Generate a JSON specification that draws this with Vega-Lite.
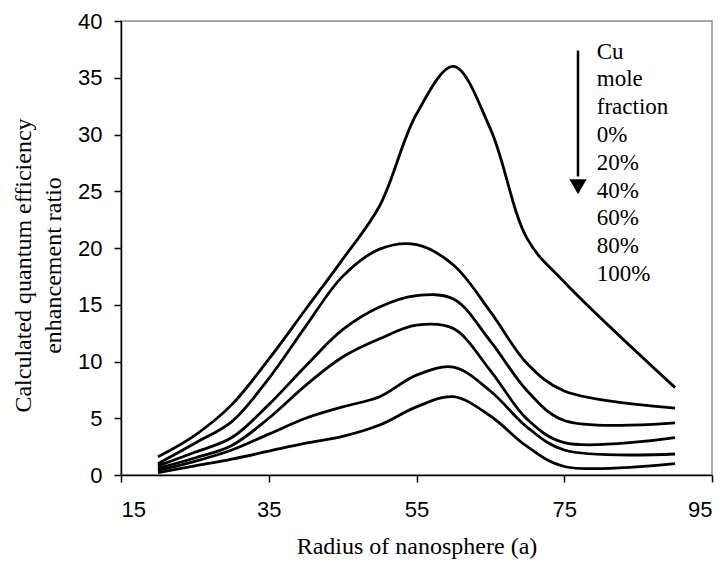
{
  "$schema": "https://vega.github.io/schema/vega-lite/v6.json",
  "width": 591,
  "height": 454,
  "autosize": {"type": "none"},
  "padding": {"left": 121, "top": 21, "right": 13, "bottom": 94},
  "background": "white",
  "config": {
    "view": {"stroke": "#8c8c8c", "strokeWidth": 1.5},
    "axis": {
      "grid": false,
      "domainColor": "black",
      "domainWidth": 1.5,
      "tickColor": "black",
      "tickWidth": 1.5,
      "tickSize": 7,
      "labelFont": "Liberation Sans",
      "labelFontSize": 22,
      "labelColor": "black",
      "titleFont": "Liberation Serif",
      "titleFontSize": 24,
      "titleFontWeight": "normal",
      "titleColor": "black"
    },
    "axisX": {"labelPadding": 17, "titlePadding": 14},
    "axisY": {"labelPadding": 12, "titlePadding": 12, "titleLineHeight": 30, "titleY": 244}
  },
  "datasets": {
    "curves": [
      {"fraction": "0%", "x": 20, "y": 1.6}, {"fraction": "0%", "x": 25, "y": 3.5}, {"fraction": "0%", "x": 30, "y": 6.2}, {"fraction": "0%", "x": 35, "y": 10.2}, {"fraction": "0%", "x": 40, "y": 14.6}, {"fraction": "0%", "x": 45, "y": 19.0}, {"fraction": "0%", "x": 50, "y": 23.7}, {"fraction": "0%", "x": 55, "y": 31.8}, {"fraction": "0%", "x": 60, "y": 36.0}, {"fraction": "0%", "x": 65, "y": 30.5}, {"fraction": "0%", "x": 70, "y": 20.8}, {"fraction": "0%", "x": 75, "y": 17.0}, {"fraction": "0%", "x": 90, "y": 7.7},
      {"fraction": "20%", "x": 20, "y": 1.0}, {"fraction": "20%", "x": 25, "y": 2.8}, {"fraction": "20%", "x": 30, "y": 4.7}, {"fraction": "20%", "x": 35, "y": 8.5}, {"fraction": "20%", "x": 40, "y": 13.1}, {"fraction": "20%", "x": 45, "y": 17.5}, {"fraction": "20%", "x": 50, "y": 19.9}, {"fraction": "20%", "x": 55, "y": 20.3}, {"fraction": "20%", "x": 60, "y": 18.5}, {"fraction": "20%", "x": 65, "y": 14.4}, {"fraction": "20%", "x": 70, "y": 9.8}, {"fraction": "20%", "x": 75, "y": 7.4}, {"fraction": "20%", "x": 90, "y": 5.9},
      {"fraction": "40%", "x": 20, "y": 0.8}, {"fraction": "40%", "x": 25, "y": 2.0}, {"fraction": "40%", "x": 30, "y": 3.3}, {"fraction": "40%", "x": 35, "y": 6.2}, {"fraction": "40%", "x": 40, "y": 9.6}, {"fraction": "40%", "x": 45, "y": 12.8}, {"fraction": "40%", "x": 50, "y": 14.8}, {"fraction": "40%", "x": 55, "y": 15.8}, {"fraction": "40%", "x": 60, "y": 15.5}, {"fraction": "40%", "x": 65, "y": 11.8}, {"fraction": "40%", "x": 70, "y": 7.4}, {"fraction": "40%", "x": 75, "y": 4.8}, {"fraction": "40%", "x": 90, "y": 4.6},
      {"fraction": "60%", "x": 20, "y": 0.6}, {"fraction": "60%", "x": 25, "y": 1.5}, {"fraction": "60%", "x": 30, "y": 2.6}, {"fraction": "60%", "x": 35, "y": 5.0}, {"fraction": "60%", "x": 40, "y": 7.9}, {"fraction": "60%", "x": 45, "y": 10.4}, {"fraction": "60%", "x": 50, "y": 12.0}, {"fraction": "60%", "x": 55, "y": 13.2}, {"fraction": "60%", "x": 60, "y": 12.9}, {"fraction": "60%", "x": 65, "y": 9.2}, {"fraction": "60%", "x": 70, "y": 4.9}, {"fraction": "60%", "x": 75, "y": 2.85}, {"fraction": "60%", "x": 90, "y": 3.3},
      {"fraction": "80%", "x": 20, "y": 0.4}, {"fraction": "80%", "x": 25, "y": 1.2}, {"fraction": "80%", "x": 30, "y": 2.2}, {"fraction": "80%", "x": 35, "y": 3.6}, {"fraction": "80%", "x": 40, "y": 5.0}, {"fraction": "80%", "x": 45, "y": 6.0}, {"fraction": "80%", "x": 50, "y": 6.9}, {"fraction": "80%", "x": 55, "y": 8.8}, {"fraction": "80%", "x": 60, "y": 9.5}, {"fraction": "80%", "x": 65, "y": 7.4}, {"fraction": "80%", "x": 70, "y": 4.2}, {"fraction": "80%", "x": 75, "y": 2.2}, {"fraction": "80%", "x": 90, "y": 1.85},
      {"fraction": "100%", "x": 20, "y": 0.2}, {"fraction": "100%", "x": 25, "y": 0.8}, {"fraction": "100%", "x": 30, "y": 1.4}, {"fraction": "100%", "x": 35, "y": 2.1}, {"fraction": "100%", "x": 40, "y": 2.8}, {"fraction": "100%", "x": 45, "y": 3.4}, {"fraction": "100%", "x": 50, "y": 4.4}, {"fraction": "100%", "x": 55, "y": 6.0}, {"fraction": "100%", "x": 60, "y": 6.9}, {"fraction": "100%", "x": 65, "y": 5.2}, {"fraction": "100%", "x": 70, "y": 2.5}, {"fraction": "100%", "x": 75, "y": 0.75}, {"fraction": "100%", "x": 90, "y": 1.0}
    ],
    "legend": [
      {"label": "Cu", "x": 79.4, "y": 37.3},
      {"label": "mole", "x": 79.4, "y": 34.85},
      {"label": "fraction", "x": 79.4, "y": 32.4},
      {"label": "0%", "x": 79.4, "y": 29.95},
      {"label": "20%", "x": 79.4, "y": 27.5},
      {"label": "40%", "x": 79.4, "y": 25.05},
      {"label": "60%", "x": 79.4, "y": 22.6},
      {"label": "80%", "x": 79.4, "y": 20.15},
      {"label": "100%", "x": 79.4, "y": 17.7}
    ],
    "arrow": [
      {"x": 76.86, "y": 37.4, "y2": 26.3, "yh": 25.4}
    ]
  },
  "layer": [
    {
      "data": {"name": "curves"},
      "mark": {"type": "line", "interpolate": "catmull-rom", "color": "black", "strokeWidth": 2.8},
      "encoding": {
        "x": {"field": "x", "type": "quantitative", "title": "Radius of nanosphere (a)", "scale": {"domain": [15, 95], "nice": false}, "axis": {"values": [15, 35, 55, 75, 95]}},
        "y": {"field": "y", "type": "quantitative", "title": ["Calculated quantum efficiency", "enhancement ratio"], "scale": {"domain": [0, 40], "nice": false}, "axis": {"values": [0, 5, 10, 15, 20, 25, 30, 35, 40]}},
        "detail": {"field": "fraction", "type": "nominal"}
      }
    },
    {
      "data": {"name": "legend"},
      "mark": {"type": "text", "align": "left", "baseline": "middle", "font": "Liberation Serif", "fontSize": 23, "color": "black"},
      "encoding": {
        "x": {"field": "x", "type": "quantitative", "title": "Radius of nanosphere (a)"},
        "y": {"field": "y", "type": "quantitative", "title": ["Calculated quantum efficiency", "enhancement ratio"]},
        "text": {"field": "label", "type": "nominal"}
      }
    },
    {
      "data": {"name": "arrow"},
      "mark": {"type": "rule", "color": "black", "strokeWidth": 2.5},
      "encoding": {
        "x": {"field": "x", "type": "quantitative", "title": "Radius of nanosphere (a)"},
        "y": {"field": "y", "type": "quantitative", "title": ["Calculated quantum efficiency", "enhancement ratio"]},
        "y2": {"field": "y2"}
      }
    },
    {
      "data": {"name": "arrow"},
      "mark": {"type": "point", "shape": "triangle-down", "filled": true, "color": "black", "size": 300, "opacity": 1},
      "encoding": {
        "x": {"field": "x", "type": "quantitative", "title": "Radius of nanosphere (a)"},
        "y": {"field": "yh", "type": "quantitative", "title": ["Calculated quantum efficiency", "enhancement ratio"]}
      }
    }
  ]
}
